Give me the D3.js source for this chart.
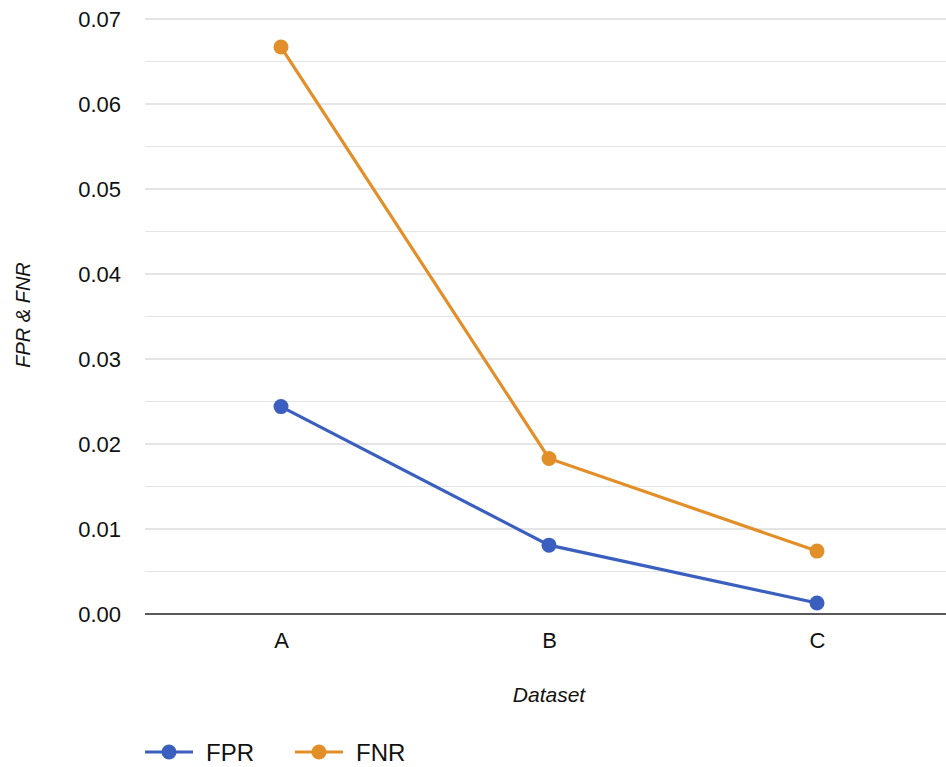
<!DOCTYPE html>
<html><head><meta charset="utf-8">
<script src="https://cdn.jsdelivr.net/npm/d3@7"></script>
<style>body{margin:0;background:#fff;} svg{display:block;font-family:"Liberation Sans",Arial,sans-serif;}</style>
</head><body>
<svg id="c" width="946" height="767"></svg>
<script>
const categories = ["A", "B", "C"];
const fpr = [0.0244, 0.0081, 0.0013];
const fnr = [0.0667, 0.0183, 0.0074];
const yTicks = [0, 0.01, 0.02, 0.03, 0.04, 0.05, 0.06, 0.07];
const minorTicks = [0.005, 0.015, 0.025, 0.035, 0.045, 0.055, 0.065];
const seriesNames = ["FPR", "FNR"];
const colors = ["#3a5fbe", "#e38f29"];

const svg = d3.select("#c");
const x = d3.scalePoint().domain(categories).range([147, 951]).padding(0.5);
const y = d3.scaleLinear().domain([0, 0.07]).range([614, 19]);
const left = 145, right = 946;

svg.append("g").selectAll("line").data(minorTicks).join("line")
  .attr("x1", left).attr("x2", right).attr("y1", d => y(d)).attr("y2", d => y(d))
  .attr("stroke", "#e4e4e4").attr("stroke-width", 1.2);
svg.append("g").selectAll("line").data(yTicks.filter(d => d > 0)).join("line")
  .attr("x1", left).attr("x2", right).attr("y1", d => y(d)).attr("y2", d => y(d))
  .attr("stroke", "#cccccc").attr("stroke-width", 1.2);

const yAxis = svg.append("g").attr("transform", `translate(${left},0)`)
  .call(d3.axisLeft(y).tickValues(yTicks).tickFormat(d3.format(".2f")).tickSize(0).tickPadding(24));
yAxis.select(".domain").remove();
yAxis.selectAll("text").attr("font-size", 22).attr("fill", "#111").attr("font-family", "Liberation Sans, Arial, sans-serif");

svg.append("line").attr("x1", left).attr("x2", right).attr("y1", y(0)).attr("y2", y(0))
  .attr("stroke", "#222").attr("stroke-width", 1.6);

const xAxis = svg.append("g").attr("transform", `translate(0,${y(0)})`)
  .call(d3.axisBottom(x).tickSize(0).tickPadding(18));
xAxis.select(".domain").remove();
xAxis.selectAll("text").attr("font-size", 22).attr("fill", "#111").attr("font-family", "Liberation Sans, Arial, sans-serif");

svg.append("text").attr("transform", "translate(30,315) rotate(-90)").attr("text-anchor", "middle")
  .attr("font-style", "italic").attr("font-size", 20).attr("fill", "#111").text("FPR & FNR");
svg.append("text").attr("x", x("B")).attr("y", 702).attr("text-anchor", "middle")
  .attr("font-style", "italic").attr("font-size", 21).attr("fill", "#111").text("Dataset");

const data = [fpr, fnr];
const line = d3.line().x((d, i) => x(categories[i])).y(d => y(d));
data.forEach((vals, si) => {
  const g = svg.append("g");
  g.append("path").datum(vals).attr("d", line).attr("fill", "none")
    .attr("stroke", colors[si]).attr("stroke-width", 3.2);
  g.selectAll("circle").data(vals).join("circle")
    .attr("cx", (d, i) => x(categories[i])).attr("cy", d => y(d)).attr("r", 7.5)
    .attr("fill", colors[si]);
});

const legX = [145, 295];
seriesNames.forEach((n, i) => {
  const g = svg.append("g").attr("transform", `translate(${legX[i]},752)`);
  g.append("line").attr("x1", 0).attr("x2", 48).attr("stroke", colors[i]).attr("stroke-width", 3.2);
  g.append("circle").attr("cx", 24).attr("r", 7.5).attr("fill", colors[i]);
  g.append("text").attr("x", 61).attr("y", 0).attr("dy", "0.36em").attr("font-size", 24)
    .attr("fill", "#111").text(n);
});
</script>
</body></html>
